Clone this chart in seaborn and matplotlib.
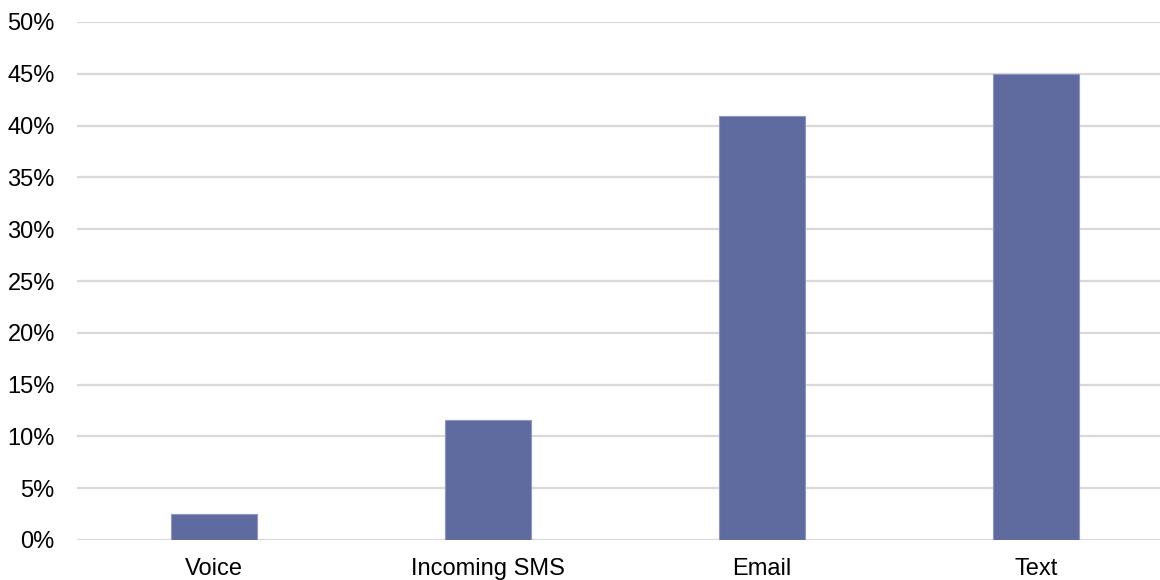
import matplotlib
matplotlib.use("Agg")
import matplotlib.pyplot as plt
import seaborn as sns
import pandas as pd
from matplotlib.ticker import MultipleLocator, FuncFormatter

# Share of responses by channel (percent)
channels = ["Voice", "Incoming SMS", "Email", "Text"]
shares = [2.5, 11.6, 40.9, 45.0]

df = pd.DataFrame({"channel": channels, "share": shares})

sns.set_theme(style="white")
plt.rcParams["font.family"] = ["Liberation Sans", "DejaVu Sans"]

fig = plt.figure(figsize=(11.6, 5.8), dpi=100)
# plot area runs slightly past the right edge of the canvas
ax = fig.add_axes([77 / 1160, 40 / 580, 1096 / 1160, 518 / 580])

sns.barplot(data=df, x="channel", y="share", ax=ax, color="#5F6A9F",
            saturation=1, width=0.314, edgecolor="#8E96C4", linewidth=0.8,
            zorder=3)

ax.set_xlim(-0.5, 3.5)
ax.set_ylim(0, 50)
ax.yaxis.set_major_locator(MultipleLocator(5))
ax.yaxis.set_major_formatter(FuncFormatter(lambda v, _: f"{v:.0f}%"))
ax.grid(axis="y", color="#D9D9D9", linewidth=1.6, zorder=0)
ax.set_axisbelow(True)
for side in ["top", "right", "left", "bottom"]:
    ax.spines[side].set_visible(False)

ax.set_xlabel("")
ax.set_ylabel("")
ax.tick_params(axis="y", length=0, pad=16, labelsize=17, labelcolor="#000000")
ax.tick_params(axis="x", length=0, pad=13, labelsize=17, labelcolor="#000000")

fig.savefig("out.png", dpi=100)
